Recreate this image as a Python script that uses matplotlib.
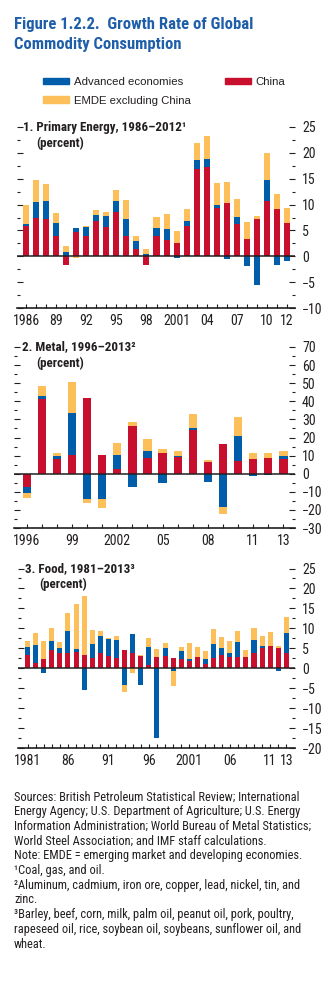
import os
import numpy as np
import matplotlib
matplotlib.use("Agg")
import matplotlib.pyplot as plt
from matplotlib import font_manager
from matplotlib.patches import Patch
from matplotlib.ticker import MultipleLocator


def condensed_family():
    # look for a narrow sans face; fall back to Liberation Sans
    prefs = ["liberationsansnarrow", "arialnarrow", "robotocondensed", "notosans",
             "opensans", "dejavusans"]
    found = []
    for f in font_manager.fontManager.ttflist:
        base = os.path.basename(f.fname).lower().replace("-", "").replace("_", "")
        if ("narrow" in base or "condensed" in base) and "italic" not in base \
                and "oblique" not in base and "mono" not in base and "serif" not in base:
            rank = next((i for i, p in enumerate(prefs) if base.startswith(p)), len(prefs))
            found.append((rank, f.name, f.stretch))
    if not found:
        return "Liberation Sans", "normal"
    found.sort()
    return found[0][1], found[0][2]


COND, STRETCH = condensed_family()
plt.rcParams["font.family"] = [COND, "DejaVu Sans"]
plt.rcParams["font.stretch"] = STRETCH

BLUE = "#005DAA"
RED = "#C8102E"
YELLOW = "#FDBF5A"
TITLE_BLUE = "#1F5FAA"
INK = "#231F20"

# Panel 1: primary energy, 1986-2012 (percent)
energy_years = np.arange(1986, 2013)
energy_china = [5.8, 7.5, 7.2, 4.0, -1.7, 4.6, 4.0, 6.8, 5.6, 8.6, 3.9, 1.5, -1.7, 3.85,
                3.1, 2.5, 5.9, 16.8, 17.2, 9.4, 10.3, 6.3, 3.3, 7.25, 10.7, 9.2, 6.5]
energy_adv = [0.5, 3.0, 3.5, 2.4, 0.8, 0.8, 1.6, 1.2, 2.2, 2.1, 3.35, 1.4, 0.4, 1.55,
              2.1, -0.3, 0.9, 1.8, 1.6, 0.5, -0.5, 1.3, -1.85, -5.6, 4.0, -1.6, -0.9]
energy_emde = [3.7, 4.2, 3.2, 1.9, 1.2, -0.3, 0.2, 0.9, 0.7, 2.1, 3.65, 1.0, 1.1, 2.2,
               2.95, 2.3, 2.3, 3.25, 4.5, 4.2, 4.1, 3.4, 3.4, 0.55, 5.3, 2.8, 2.9]
energy_ticks = [1986, 1989, 1992, 1995, 1998, 2001, 2004, 2007, 2010, 2012]
energy_ticklabels = ["1986", "89", "92", "95", "98", "2001", "04", "07", "10", "12"]

# Panel 2: metal, 1996-2013 (percent)
metal_years = np.arange(1996, 2014)
metal_china = [-7.1, 41.0, 8.2, 10.6, 42.0, 10.6, 2.8, 26.5, 8.9, 11.5, 9.1, 24.3, 6.7,
               16.5, 7.1, 8.2, 8.7, 8.2]
metal_adv = [-3.3, 1.8, 1.6, 22.7, -13.9, -13.9, 7.4, -7.1, 3.4, -5.4, 0.6, 0.7, -4.5,
             -18.4, 13.7, -1.5, -0.9, 1.8]
metal_emde = [-2.8, 5.9, 1.4, 17.1, -2.3, -5.1, 6.5, 2.2, 6.7, 1.9, 3.1, 8.1, 1.1,
              -3.9, 10.7, 3.0, 3.0, 2.8]
metal_ticks = [1996, 1999, 2002, 2005, 2008, 2011, 2013]
metal_ticklabels = ["1996", "99", "2002", "05", "08", "11", "13"]

# Panel 3: food, 1981-2013 (percent)
food_years = np.arange(1981, 2014)
food_china = [3.3, 1.2, 2.3, 4.6, 3.8, 3.7, 4.1, 3.3, 2.6, 3.8, 3.1, 2.6, 4.6, 3.8, 3.1,
              0.8, 2.8, 3.1, 2.6, 2.3, 1.8, 2.8, 1.1, 2.6, 3.3, 2.8, 2.8, 2.8, 3.8, 5.1,
              5.6, 5.1, 3.8]
food_adv = [2.0, 4.6, -1.2, 2.2, 1.3, 5.6, 0.7, -5.4, 3.5, 4.3, 4.2, 4.5, -4.2, 4.8,
            -4.2, 4.5, -17.4, 2.0, -0.7, 2.0, 0.5, 0.0, 1.2, 3.5, 1.8, 1.0, 3.8, 0.0,
            3.3, 0.5, 0.0, -0.7, 5.0]
food_emde = [1.5, 3.0, 4.5, 3.3, 1.5, 4.5, 11.3, 14.8, 3.5, 1.2, 0.3, 1.0, -1.7, -1.2,
             0.2, 2.3, 2.0, 1.2, -3.7, 1.0, 4.0, 2.5, 2.0, 3.7, 2.7, 3.0, 2.7, 1.8, 3.0,
             2.5, 3.5, 0.5, 4.0]
food_ticks = [1981, 1986, 1991, 1996, 2001, 2006, 2011, 2013]
food_ticklabels = ["1981", "86", "91", "96", "2001", "06", "11", "13"]

notes = [
    "Sources: British Petroleum Statistical Review; International",
    "Energy Agency; U.S. Department of Agriculture; U.S. Energy",
    "Information Administration; World Bureau of Metal Statistics;",
    "World Steel Association; and IMF staff calculations.",
    "Note: EMDE = emerging market and developing economies.",
    "\u00b9Coal, gas, and oil.",
    "\u00b2Aluminum, cadmium, iron ore, copper, lead, nickel, tin, and",
    "zinc.",
    "\u00b3Barley, beef, corn, milk, palm oil, peanut oil, pork, poultry,",
    "rapeseed oil, rice, soybean oil, soybeans, sunflower oil, and",
    "wheat.",
]

W, H = 327, 989
fig = plt.figure(figsize=(W / 100, H / 100), dpi=100)
renderer = fig.canvas.get_renderer()


def box(left, top, right, bottom):
    return [left / W, 1 - bottom / H, (right - left) / W, (bottom - top) / H]


def fx(x):
    return x / W


def fy(y):
    return 1 - y / H


def fit_width(texts, width_px):
    # shrink a group of texts together so the widest one spans width_px
    widest = max(t.get_window_extent(renderer).width for t in texts)
    if widest > width_px:
        for t in texts:
            t.set_fontsize(t.get_fontsize() * width_px / widest)


def stacked(ax, years, china, adv, emde, width):
    # positive parts stack upward from zero, negative parts downward
    up = np.zeros(len(years))
    down = np.zeros(len(years))
    for vals, color in [(china, RED), (adv, BLUE), (emde, YELLOW)]:
        v = np.asarray(vals, dtype=float)
        base = np.where(v >= 0, up, down)
        ax.bar(years, v, width, bottom=base, color=color, linewidth=0, zorder=2)
        up += np.clip(v, 0, None)
        down += np.clip(v, None, 0)


def style(ax, years, xpad, ylim, major, minor, ticks, ticklabels):
    ax.set_xlim(years[0] - xpad[0], years[-1] + xpad[1])
    ax.set_ylim(*ylim)
    for s in ["left", "right", "top"]:
        ax.spines[s].set_visible(False)
    ax.spines["bottom"].set_color(INK)
    ax.spines["bottom"].set_linewidth(1.2)
    ax.axhline(0, color=INK, lw=1.1, zorder=3)
    ax.yaxis.set_major_locator(MultipleLocator(major))
    ax.yaxis.set_minor_locator(MultipleLocator(minor))
    ax.tick_params(axis="y", which="both", left=True, right=True, labelleft=False,
                   labelright=True, direction="in", colors=INK, width=0.8,
                   labelsize=10, pad=5)
    ax.tick_params(axis="y", which="major", length=4.5)
    ax.tick_params(axis="y", which="minor", length=2.2)
    ax.yaxis.set_major_formatter(lambda v, p: f"{v:.0f}".replace("-", "\u2212"))
    ax.set_xticks(years, minor=True)
    ax.set_xticks(ticks, ticklabels)
    ax.tick_params(axis="x", which="both", direction="in", length=3, width=0.8,
                   colors=INK, labelsize=10, pad=4)


# figure title
title = [fig.text(fx(14), fy(24), "Figure 1.2.2.  Growth Rate of Global",
                  color=TITLE_BLUE, fontsize=12, fontweight="bold", va="center"),
         fig.text(fx(14), fy(45), "Commodity Consumption",
                  color=TITLE_BLUE, fontsize=12, fontweight="bold", va="center")]
fit_width(title, 240)

handles = [Patch(color=BLUE, label="Advanced economies"),
           Patch(color=YELLOW, label="EMDE excluding China"),
           Patch(color=RED, label="China")]
fig.legend(handles=handles, ncol=2, loc="upper left", bbox_to_anchor=(fx(43), fy(77)),
           frameon=False, borderpad=0, borderaxespad=0,
           handlelength=2.3, handleheight=0.55, handletextpad=0.4,
           labelspacing=0.75, columnspacing=3.0, labelcolor=INK,
           prop={"family": ["Liberation Sans", "DejaVu Sans"], "stretch": "normal",
                 "size": 8.2})

panels = [
    dict(rect=box(17, 127, 295, 308), years=energy_years, china=energy_china,
         adv=energy_adv, emde=energy_emde, width=0.6, xpad=(0.9, 0.8),
         ylim=(-10, 25), major=5, minor=2.5, ticks=energy_ticks,
         ticklabels=energy_ticklabels,
         title="1. Primary Energy, 1986\u20132012\u00b9", top=127, tx=23, px=36),
    dict(rect=box(14, 347, 295, 528), years=metal_years, china=metal_china,
         adv=metal_adv, emde=metal_emde, width=0.55, xpad=(0.84, 0.77),
         ylim=(-30, 70), major=10, minor=5, ticks=metal_ticks,
         ticklabels=metal_ticklabels,
         title="2. Metal, 1996\u20132013\u00b2", top=347, tx=22, px=36),
    dict(rect=box(17.5, 568.5, 295, 748), years=food_years, china=food_china,
         adv=food_adv, emde=food_emde, width=0.62, xpad=(1.24, 1.07),
         ylim=(-20, 25), major=5, minor=2.5, ticks=food_ticks,
         ticklabels=food_ticklabels,
         title="3. Food, 1981\u20132013\u00b3", top=568.5, tx=25, px=39),
]

heads = []
for p in panels:
    ax = fig.add_axes(p["rect"])
    stacked(ax, p["years"], p["china"], p["adv"], p["emde"], p["width"])
    style(ax, p["years"], p["xpad"], p["ylim"], p["major"], p["minor"],
          p["ticks"], p["ticklabels"])
    heads.append(fig.text(fx(p["tx"]), fy(p["top"]), p["title"], fontsize=9.5,
                          fontweight="bold", color=INK, va="center"))
    heads.append(fig.text(fx(p["px"]), fy(p["top"] + 16), "(percent)", fontsize=9.5,
                          fontweight="bold", color=INK, va="center"))

# panel headings share one size, set by the longest one
fit_width(heads, 163)

note_texts = [fig.text(fx(14), fy(797 + i * 14.7), line, fontsize=9.5, color=INK,
                       va="center") for i, line in enumerate(notes)]
fit_width(note_texts, 299)

fig.savefig("out.png", dpi=100, facecolor="white")
